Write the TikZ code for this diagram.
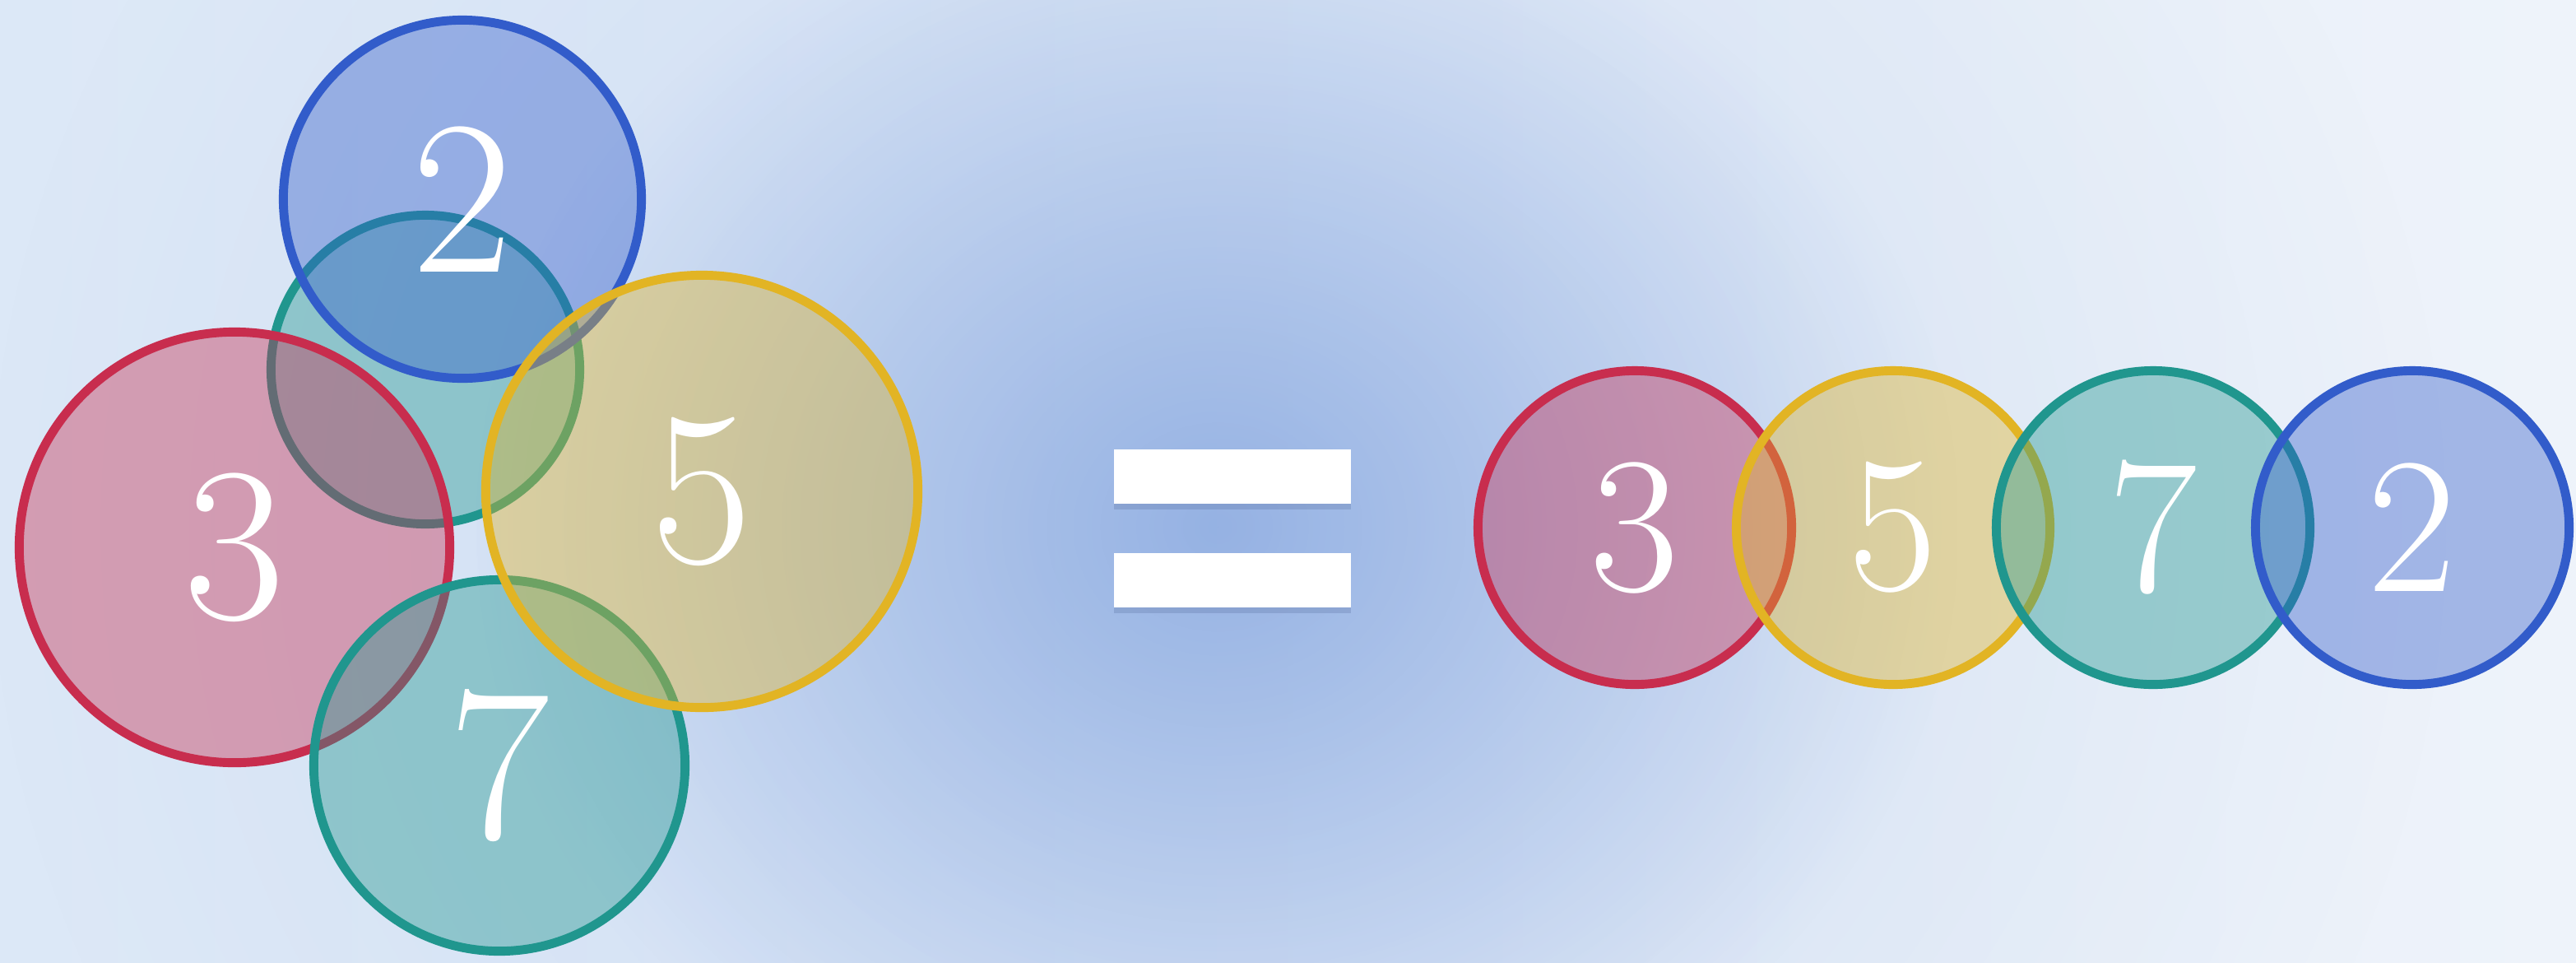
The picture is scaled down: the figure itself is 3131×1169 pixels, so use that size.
\documentclass[tikz,border=0pt]{standalone}
\usepackage{fontspec}
\usepackage{tikz}
\usetikzlibrary{
  shadows,
  fadings
}
\definecolor{primered}{RGB}{200,45,78}
\definecolor{primeblue}{RGB}{50,92,202}
\definecolor{primeyellow}{RGB}{226,180,36}
\definecolor{primeteal}{RGB}{32,150,142}
\definecolor{bgleft}{RGB}{220,232,247}
\definecolor{bgright}{RGB}{238,243,250}
\definecolor{glowblue}{RGB}{120,156,220}
\tikzfading[name=broadfade, inner color=transparent!78, outer color=transparent!100]
\tikzfading[name=corefade, inner color=transparent!35, outer color=transparent!100]
\tikzset{
  primedisc/.style={
    circle,
    draw,
    line width=3.1pt,
    fill opacity=0.4,
    draw opacity=1,
    text opacity=1,
    text=white,
    inner sep=0pt
  },
  reddisc/.style={primedisc,draw=primered,fill=primered},
  bluedisc/.style={primedisc,draw=primeblue,fill=primeblue},
  yellowdisc/.style={primedisc,draw=primeyellow,fill=primeyellow},
  tealdisc/.style={primedisc,draw=primeteal,fill=primeteal},
  bigdigit/.style={font=\fontsize{76}{76}\selectfont},
  smalldigit/.style={font=\fontsize{67}{67}\selectfont,minimum size=3.81cm},
  eqbar/.style={
    rectangle,
    fill=white,
    minimum width=2.88cm,
    minimum height=0.66cm,
    inner sep=0pt,
    drop shadow={shadow xshift=0pt,shadow yshift=-2pt,opacity=0.15,fill=primeblue!50!black}
  },
}

\begin{document}
\begin{tikzpicture}[x=0.01cm,y=-0.01cm]
  \useasboundingbox (0,0) rectangle (3131,1169);
  \begin{scope}
    \clip (0,0) rectangle (3131,1169);
    \shade[left color=bgleft,right color=bgright] (0,0) rectangle (3131,1169);
    \fill[glowblue,path fading=broadfade,fit fading=true] (-20,-760) rectangle (2980,2040);
    \fill[glowblue,path fading=corefade,fit fading=true] (580,-160) rectangle (2380,1440);
  \end{scope}

  \node[tealdisc,minimum size=3.75cm] (tealback) at (517,449) {};
  \node[bluedisc,bigdigit,minimum size=4.35cm] (lefttwo) at (562,242) {2};
  \node[reddisc,bigdigit,minimum size=5.23cm] (leftthree) at (285,665) {3};
  \node[tealdisc,bigdigit,minimum size=4.51cm] (leftseven) at (607,930) {7};
  \node[yellowdisc,bigdigit,minimum size=5.25cm] (leftfive) at (853,597) {5};

  \node[eqbar] (eqtop) at (1498,579) {};
  \node[eqbar] (eqbot) at (1498,705) {};

  \node[reddisc,smalldigit] (rightthree) at (1987,641) {3};
  \node[yellowdisc,smalldigit] (rightfive) at (2301,641) {5};
  \node[tealdisc,smalldigit] (rightseven) at (2617,641) {7};
  \node[bluedisc,smalldigit] (righttwo) at (2932,641) {2};
\end{tikzpicture}
\end{document}
